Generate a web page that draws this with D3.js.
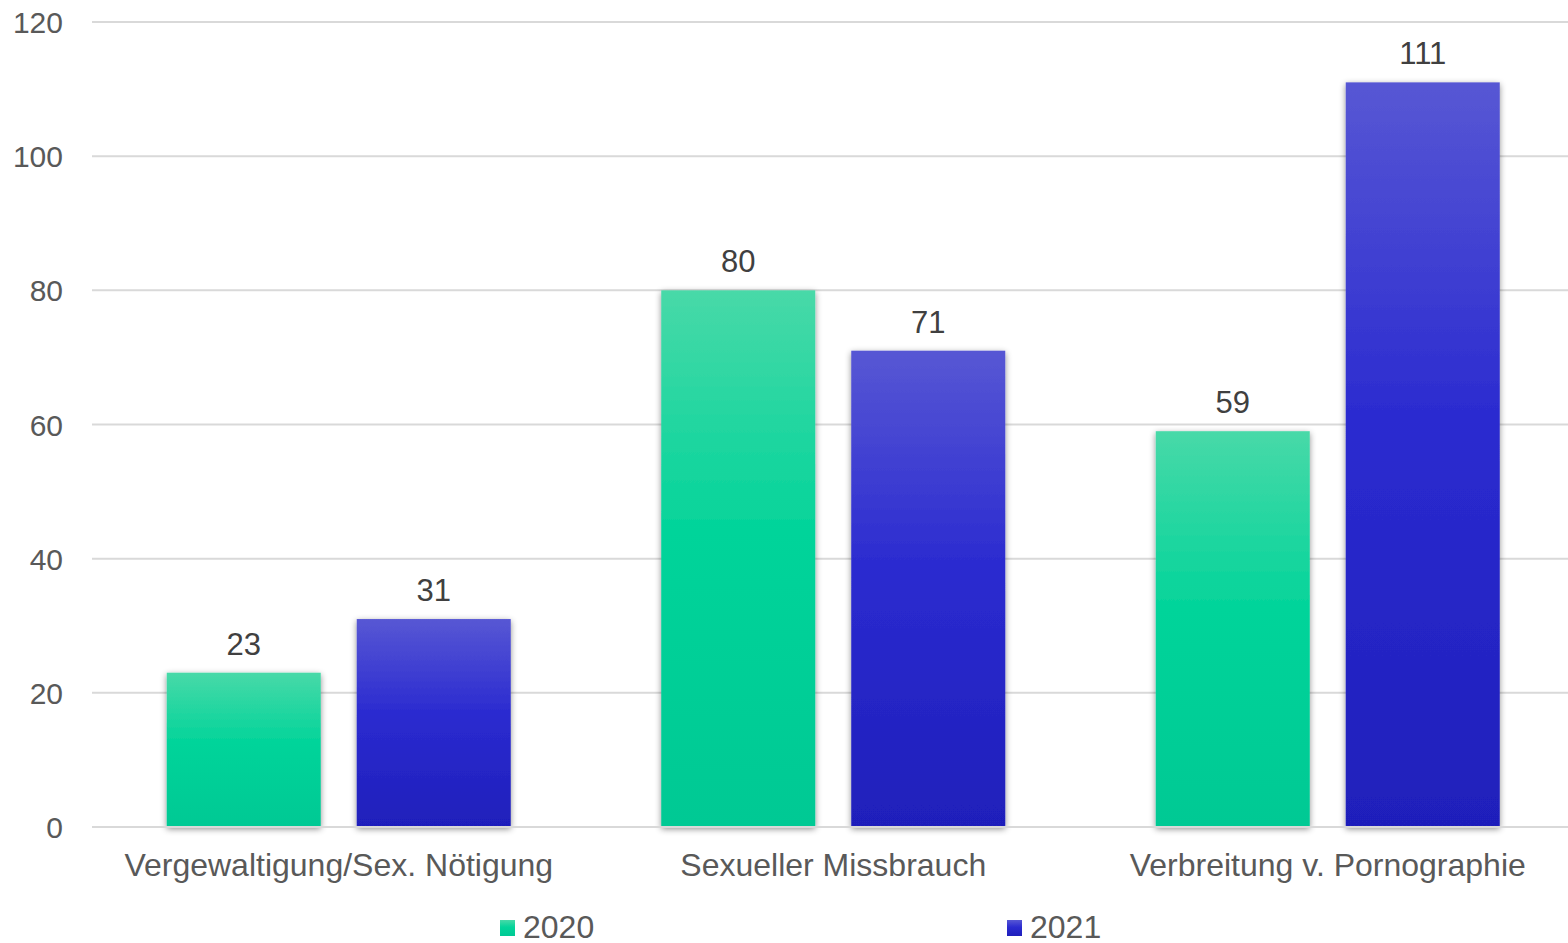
<!DOCTYPE html>
<html><head><meta charset="utf-8">
<script src="https://cdn.jsdelivr.net/npm/d3@7"></script>
<style>html,body{margin:0;padding:0;background:#fff;}svg{display:block;font-family:"Liberation Sans",Arial,sans-serif;}</style>
</head><body>
<script>
const categories = ["Vergewaltigung/Sex. Nötigung", "Sexueller Missbrauch", "Verbreitung v. Pornographie"];
const seriesNames = ["2020", "2021"];
const values2020 = [23, 80, 59];
const values2021 = [31, 71, 111];
const yTicks = [0, 20, 40, 60, 80, 100, 120];

const W = 1568, H = 943;
const svg = d3.select("body").append("svg").attr("width", W).attr("height", H);
const defs = svg.append("defs");
const grads = {
  "2020": ["#48d9a8", "#03d49a", "#00c994"],
  "2021": ["#5757d4", "#2b2bd0", "#1f1fbb"]
};
Object.entries(grads).forEach(([k, c]) => {
  const g = defs.append("linearGradient").attr("id", "g" + k).attr("x1", 0).attr("y1", 0).attr("x2", 0).attr("y2", 1);
  g.append("stop").attr("offset", "0%").attr("stop-color", c[0]);
  g.append("stop").attr("offset", "45%").attr("stop-color", c[1]);
  g.append("stop").attr("offset", "100%").attr("stop-color", c[2]);
});
const f = defs.append("filter").attr("id", "sh").attr("x", "-20%").attr("y", "-20%").attr("width", "140%").attr("height", "140%");
f.append("feDropShadow").attr("dx", 0).attr("dy", 2).attr("stdDeviation", 3).attr("flood-color", "#000").attr("flood-opacity", 0.45);

const y = d3.scaleLinear().domain([0, 120]).range([827, 22]);
const x0 = d3.scaleBand().domain(categories).range([91.5, 1575]).padding(0);
const x1 = d3.scaleBand().domain(seriesNames).range([75.25, 419.25]).paddingInner(0.1895).paddingOuter(0);

// gridlines
svg.append("g").selectAll("line").data(yTicks).join("line")
  .attr("x1", 92).attr("x2", W).attr("y1", d => y(d)).attr("y2", d => y(d))
  .attr("stroke", "#d9d9d9").attr("stroke-width", 2);

// y tick labels
svg.append("g").selectAll("text").data(yTicks).join("text")
  .attr("x", 63).attr("y", d => y(d) + 11).attr("text-anchor", "end")
  .attr("font-size", 30).attr("fill", "#595959").text(d => d);

const data = categories.map((c, i) => ({c, vals: [{s: "2020", v: values2020[i]}, {s: "2021", v: values2021[i]}]}));
const groups = svg.append("g").selectAll("g").data(data).join("g")
  .attr("transform", d => `translate(${x0(d.c)},0)`);
groups.selectAll("rect").data(d => d.vals).join("rect")
  .attr("x", d => x1(d.s)).attr("width", x1.bandwidth())
  .attr("y", d => y(d.v)).attr("height", d => y(0) - y(d.v))
  .attr("fill", d => `url(#g${d.s})`).attr("filter", "url(#sh)");
groups.selectAll("text").data(d => d.vals).join("text")
  .attr("x", d => x1(d.s) + x1.bandwidth() / 2).attr("y", d => y(d.v) - 18)
  .attr("text-anchor", "middle").attr("font-size", 31).attr("fill", "#404040").text(d => d.v);

// axis line
svg.append("line").attr("x1", 92).attr("x2", W).attr("y1", y(0)).attr("y2", y(0))
  .attr("stroke", "#d9d9d9").attr("stroke-width", 2);

// category labels
svg.append("g").selectAll("text").data(categories).join("text")
  .attr("x", d => x0(d) + x0.bandwidth() / 2).attr("y", 876).attr("text-anchor", "middle")
  .attr("font-size", 32).attr("fill", "#595959").text(d => d);

// legend
const legX = {"2020": 500, "2021": 1007};
const leg = svg.append("g").selectAll("g").data(seriesNames).join("g")
  .attr("transform", d => `translate(${legX[d]},0)`);
leg.append("rect").attr("x", 0).attr("y", 920).attr("width", 15).attr("height", 16).attr("fill", d => `url(#g${d})`);
leg.append("text").attr("x", 23).attr("y", 938).attr("font-size", 32).attr("fill", "#595959").text(d => d);
</script>
</body></html>
